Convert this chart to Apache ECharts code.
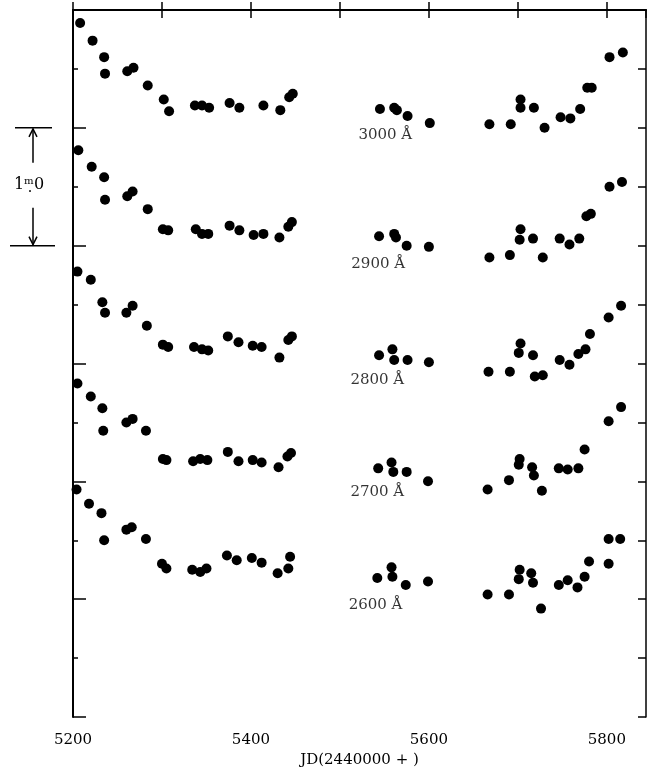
<!DOCTYPE html>
<html>
<head>
<meta charset="utf-8">
<script src="https://cdn.jsdelivr.net/npm/echarts@6/dist/echarts.min.js"></script>
<style>
  html, body { margin: 0; padding: 0; background: #fff; }
  #chart { width: 647px; height: 769px; }
</style>
</head>
<body>
<div id="chart"></div>
<script>
// Light curves at five ultraviolet wavelengths, stacked with 1 mag offsets.
// x: JD - 2440000, y: magnitude (increasing downward)

const jd3000  = [5208, 5222, 5235, 5236, 5261, 5268, 5284, 5302, 5308, 5337, 5345, 5353, 5376, 5387, 5414, 5433, 5443, 5447,
                 5545, 5561, 5564, 5576, 5601, 5668, 5692, 5703, 5703, 5718, 5730, 5748, 5759, 5770, 5778, 5783, 5803, 5818];
const mag3000 = [0.11, 0.26, 0.40, 0.54, 0.52, 0.49, 0.64, 0.76, 0.86, 0.81, 0.81, 0.83, 0.79, 0.83, 0.81, 0.85, 0.74, 0.71,
                 0.84, 0.83, 0.85, 0.90, 0.96, 0.97, 0.97, 0.76, 0.83, 0.83, 1.00, 0.91, 0.92, 0.84, 0.66, 0.66, 0.40, 0.36];

const jd2900  = [5206, 5221, 5235, 5236, 5261, 5267, 5284, 5301, 5307, 5338, 5345, 5352, 5376, 5387, 5403, 5414, 5432, 5442, 5446,
                 5544, 5561, 5563, 5575, 5600, 5668, 5691, 5703, 5702, 5717, 5728, 5747, 5758, 5769, 5777, 5782, 5803, 5817];
const mag2900 = [1.19, 1.33, 1.42, 1.61, 1.58, 1.54, 1.69, 1.86, 1.87, 1.86, 1.90, 1.90, 1.83, 1.87, 1.91, 1.90, 1.93, 1.84, 1.80,
                 1.92, 1.90, 1.93, 2.00, 2.01, 2.10, 2.08, 1.86, 1.95, 1.94, 2.10, 1.94, 1.99, 1.94, 1.75, 1.73, 1.50, 1.46];

const jd2800  = [5205, 5220, 5233, 5236, 5260, 5267, 5283, 5301, 5307, 5336, 5345, 5352, 5374, 5386, 5402, 5412, 5432, 5442, 5446,
                 5544, 5559, 5561, 5576, 5600, 5667, 5691, 5703, 5701, 5717, 5719, 5728, 5747, 5758, 5768, 5776, 5781, 5802, 5816];
const mag2800 = [2.22, 2.29, 2.48, 2.57, 2.57, 2.51, 2.68, 2.84, 2.86, 2.86, 2.88, 2.89, 2.77, 2.82, 2.85, 2.86, 2.95, 2.80, 2.77,
                 2.93, 2.88, 2.97, 2.97, 2.99, 3.07, 3.07, 2.83, 2.91, 2.93, 3.11, 3.10, 2.97, 3.01, 2.92, 2.88, 2.75, 2.61, 2.51];

const jd2700  = [5205, 5220, 5233, 5234, 5260, 5267, 5282, 5301, 5305, 5335, 5343, 5351, 5374, 5386, 5402, 5412, 5431, 5441, 5445,
                 5543, 5558, 5560, 5575, 5599, 5666, 5690, 5702, 5701, 5716, 5718, 5727, 5746, 5756, 5768, 5775, 5802, 5816];
const mag2700 = [3.17, 3.28, 3.38, 3.57, 3.50, 3.47, 3.57, 3.81, 3.82, 3.83, 3.81, 3.82, 3.75, 3.83, 3.82, 3.84, 3.88, 3.79, 3.76,
                 3.89, 3.84, 3.92, 3.92, 4.00, 4.07, 3.99, 3.81, 3.86, 3.88, 3.95, 4.08, 3.89, 3.90, 3.89, 3.73, 3.49, 3.37];

const jd2600  = [5204, 5218, 5232, 5235, 5260, 5266, 5282, 5300, 5305, 5334, 5343, 5350, 5373, 5384, 5401, 5412, 5430, 5442, 5444,
                 5542, 5558, 5559, 5574, 5599, 5666, 5690, 5702, 5701, 5715, 5717, 5726, 5746, 5756, 5767, 5775, 5780, 5802, 5802, 5815];
const mag2600 = [4.07, 4.19, 4.27, 4.50, 4.41, 4.39, 4.49, 4.70, 4.74, 4.75, 4.77, 4.74, 4.63, 4.67, 4.65, 4.69, 4.78, 4.74, 4.64,
                 4.82, 4.73, 4.81, 4.88, 4.85, 4.96, 4.96, 4.75, 4.83, 4.78, 4.86, 5.08, 4.88, 4.84, 4.90, 4.81, 4.68, 4.49, 4.70, 4.49];

// wavelength tags and where they sit in data coordinates
const bandNames    = ['3000 Å', '2900 Å', '2800 Å', '2700 Å', '2600 Å'];
const bandLabelJD  = [5551, 5543, 5542, 5542, 5540];
const bandLabelMag = [1.06, 2.16, 3.14, 4.09, 5.05];

const xLabels = [5200, 5400, 5600, 5800];
const xTitle = 'JD(2440000 + )';
const scaleText = '1ᵐ̣0';
const scaleFrom = 1, scaleTo = 2;   // scale bar spans one magnitude

const serif = '"DejaVu Serif", "Liberation Serif", serif';

const bands = [[jd3000, mag3000], [jd2900, mag2900], [jd2800, mag2800], [jd2700, mag2700], [jd2600, mag2600]];

const pointSeries = bands.map(([xs, ys], i) => ({
  name: bandNames[i],
  type: 'scatter',
  xAxisIndex: 0,
  yAxisIndex: 0,
  symbol: 'circle',
  symbolSize: 10,
  itemStyle: { color: '#000', opacity: 1 },
  silent: true,
  data: xs.map((x, k) => [x, ys[k]])
}));

const labelSeries = {
  type: 'scatter',
  xAxisIndex: 0,
  yAxisIndex: 0,
  symbolSize: 0,
  silent: true,
  data: bandNames.map((n, i) => [bandLabelJD[i], bandLabelMag[i], n]),
  label: {
    show: true,
    position: 'inside',
    formatter: p => p.value[2],
    color: '#000',
    fontFamily: serif,
    fontSize: 15
  }
};

const chart = echarts.init(document.getElementById('chart'), null, { renderer: 'canvas' });

const lineStyle = { color: '#000', width: 1.5 };

chart.setOption({
  animation: false,
  backgroundColor: '#fff',
  grid: { left: 73, right: 1, top: 10, bottom: 52, outerBoundsMode: 'none', containLabel: false },
  xAxis: [
    {
      type: 'value', position: 'bottom', min: 5200, max: 5844, interval: 100,
      axisLine: { show: true, lineStyle: { color: '#000', width: 2 } },
      axisTick: { show: true, inside: true, length: 8, lineStyle: lineStyle },
      axisLabel: {
        show: true, margin: 16, color: '#000', fontFamily: serif, fontSize: 15,
        showMaxLabel: false,
        formatter: v => (xLabels.indexOf(v) >= 0 ? String(v) : '')
      },
      splitLine: { show: false },
      name: xTitle, nameLocation: 'middle', nameGap: 36,
      nameTextStyle: { color: '#000', fontFamily: serif, fontSize: 15 }
    },
    {
      type: 'value', position: 'top', min: 5200, max: 5844, interval: 100,
      axisLine: { show: true, lineStyle: lineStyle },
      axisTick: { show: true, inside: true, length: 8, lineStyle: lineStyle },
      axisLabel: { show: false },
      splitLine: { show: false }
    }
  ],
  yAxis: [
    {
      type: 'value', position: 'left', min: 0, max: 6, interval: 1, inverse: true,
      axisLine: { show: true, lineStyle: { color: '#000', width: 2 } },
      axisTick: { show: true, inside: true, length: 13, lineStyle: lineStyle },
      minorTick: { show: true, splitNumber: 2, length: 5, lineStyle: lineStyle },
      axisLabel: { show: false },
      splitLine: { show: false }
    },
    {
      type: 'value', position: 'right', min: 0, max: 6, interval: 0.5, inverse: true,
      axisLine: { show: true, lineStyle: lineStyle },
      axisTick: { show: true, inside: true, length: 8, lineStyle: lineStyle },
      axisLabel: { show: false },
      splitLine: { show: false }
    }
  ],
  series: pointSeries.concat([labelSeries])
});

// one-magnitude scale bar left of the frame
const yTop = chart.convertToPixel({ yAxisIndex: 0 }, scaleFrom);
const yBot = chart.convertToPixel({ yAxisIndex: 0 }, scaleTo);
const xBar = 33;
const yMid = (yTop + yBot) / 2;
const stroke = { stroke: '#000', lineWidth: 1.5, fill: null };

chart.setOption({
  graphic: [
    { type: 'line', shape: { x1: 15, y1: yTop, x2: 52, y2: yTop }, style: stroke },
    { type: 'line', shape: { x1: 10, y1: yBot, x2: 55, y2: yBot }, style: stroke },
    { type: 'line', shape: { x1: xBar, y1: yTop + 1, x2: xBar, y2: yMid - 24 }, style: stroke },
    { type: 'polyline', shape: { points: [[xBar - 4, yTop + 9], [xBar, yTop + 1], [xBar + 4, yTop + 9]] }, style: stroke },
    { type: 'line', shape: { x1: xBar, y1: yMid + 21, x2: xBar, y2: yBot - 1 }, style: stroke },
    { type: 'polyline', shape: { points: [[xBar - 4, yBot - 9], [xBar, yBot - 1], [xBar + 4, yBot - 9]] }, style: stroke },
    {
      type: 'text', x: 29, y: yMid - 2,
      style: { text: scaleText, fill: '#000', font: '16px ' + serif, align: 'center', verticalAlign: 'middle' }
    }
  ]
});
</script>
</body>
</html>
